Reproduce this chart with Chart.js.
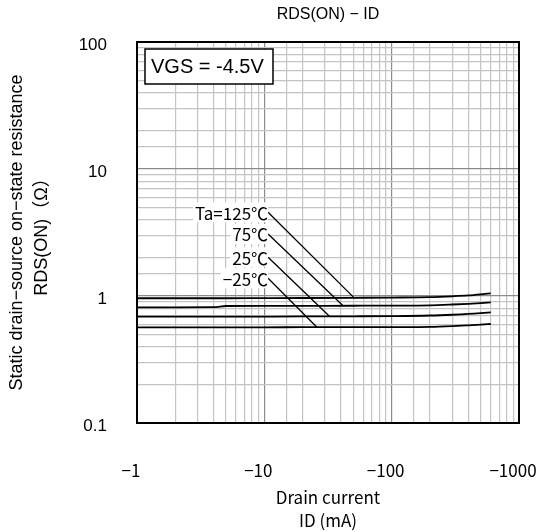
<!DOCTYPE html>
<html>
<head>
<meta charset="utf-8">
<script src="https://cdn.jsdelivr.net/npm/chart.js@4.4.1/dist/chart.umd.min.js"></script>
<style>
  body { margin: 0; background: #fff; }
</style>
</head>
<body>
<canvas id="myChart" width="536" height="532"></canvas>
<script>
// drain current (mA, magnitude; shown as negative)
const currents = [1, 2, 4, 5, 10, 20, 50, 100, 200, 300, 400, 500, 600]
const r125 = [0.96, 0.96, 0.96, 0.96, 0.962, 0.964, 0.968, 0.972, 0.98, 0.995, 1.01, 1.03, 1.05]
const r75 = [0.815, 0.815, 0.816, 0.834, 0.836, 0.837, 0.838, 0.84, 0.845, 0.857, 0.868, 0.88, 0.892]
const r25 = [0.687, 0.687, 0.688, 0.688, 0.689, 0.69, 0.692, 0.695, 0.702, 0.712, 0.722, 0.733, 0.744]
const rm25 = [0.567, 0.567, 0.567, 0.567, 0.567, 0.568, 0.568, 0.569, 0.572, 0.58, 0.588, 0.595, 0.602]

const tempLabels = ['Ta=125℃', '75℃', '25℃', '−25℃']
const leaderStartX = [10.7, 10.7, 10.7, 10.7]
const leaderStartY = [4.56, 3.08, 2.02, 1.38]
const leaderEndX = [51, 41.5, 32.6, 25.9]
const leaderEndY = [0.962, 0.837, 0.689, 0.567]

const xTicks = [1, 10, 100, 1000]
const yTicks = [0.1, 1, 10, 100]
const chartTitle = 'RDS(ON) − ID'
const conditionText = 'VGS = -4.5V'

const series = [r125, r75, r25, rm25]

const datasets = series.map(s => ({
  data: currents.map((c, i) => ({x: c, y: s[i]})),
  borderColor: '#000',
  borderWidth: 1.8,
  pointRadius: 0,
  cubicInterpolationMode: 'monotone',
  fill: false
}))

tempLabels.forEach((t, i) => {
  datasets.push({
    data: [{x: leaderStartX[i], y: leaderStartY[i]}, {x: leaderEndX[i], y: leaderEndY[i]}],
    borderColor: '#000',
    borderWidth: 1.3,
    pointRadius: 0,
    fill: false
  })
})

function isDecade(v){
  const l = Math.log10(v)
  return Math.abs(l - Math.round(l)) < 1e-6
}

const extras = {
  id: 'extras',
  afterDraw(chart){
    const c = chart.ctx
    const a = chart.chartArea
    const xs = chart.scales.x, ys = chart.scales.y
    c.save()
    // frame
    c.strokeStyle = '#000'
    c.lineWidth = 2
    c.strokeRect(a.left, a.top, a.right - a.left, a.bottom - a.top)

    // title
    c.fillStyle = '#000'
    c.font = '16px "Liberation Sans", Arial, sans-serif'
    c.textAlign = 'center'
    c.textBaseline = 'middle'
    c.fillText(chartTitle, (a.left + a.right) / 2, 15)

    // condition box
    c.fillStyle = '#fff'
    c.fillRect(a.left + 8, a.top + 7, 128, 35)
    c.lineWidth = 1.5
    c.strokeRect(a.left + 8, a.top + 7, 128, 35)
    c.fillStyle = '#000'
    c.font = '20px "Liberation Sans", Arial, sans-serif'
    c.textAlign = 'left'
    c.fillText(conditionText, a.left + 14, a.top + 25)

    // temperature labels
    c.font = '17px "Noto Sans CJK JP", sans-serif'
    c.textAlign = 'right'
    tempLabels.forEach((t, i) => {
      const px = xs.getPixelForValue(leaderStartX[i])
      const py = ys.getPixelForValue(leaderStartY[i])
      const w = c.measureText(t).width
      c.fillStyle = '#fff'
      c.fillRect(px - w - 2, py - 10, w + 2, 20)
      c.fillStyle = '#000'
      c.fillText(t, px, py + 1)
    })
    c.restore()
  }
}

new Chart(document.getElementById('myChart'), {
  type: 'line',
  data: { datasets: datasets },
  plugins: [extras],
  options: {
    responsive: false,
    animation: false,
    layout: { padding: { top: 42, right: 17, left: 0, bottom: 0 } },
    plugins: { legend: { display: false }, tooltip: { enabled: false } },
    scales: {
      x: {
        type: 'logarithmic',
        min: 1,
        max: 1000,
        border: { display: false },
        grid: {
          drawTicks: false,
          color: ctx => isDecade(ctx.tick.value) ? '#8c8c8c' : '#c4c4c4',
          lineWidth: 1.2
        },
        ticks: {
          autoSkip: false,
          maxRotation: 0,
          padding: 37,
          labelOffset: -6,
          color: '#000',
          font: { family: '"Noto Sans CJK JP", sans-serif', size: 17 },
          callback: v => xTicks.some(t => Math.abs(t - v) < 1e-6) ? '−' + v : ''
        },
        title: {
          display: true,
          text: ['Drain current', 'ID (mA)'],
          color: '#000',
          font: { family: '"Noto Sans CJK JP", sans-serif', size: 17, lineHeight: 1.36 },
          padding: { top: 0, bottom: 0 }
        },
        afterFit(scale){
          scale.height = 109
          scale.paddingLeft = 0
          scale.paddingRight = 0
        }
      },
      y: {
        type: 'logarithmic',
        min: 0.1,
        max: 100,
        border: { display: false },
        grid: {
          drawTicks: false,
          color: ctx => isDecade(ctx.tick.value) ? '#8c8c8c' : '#c4c4c4',
          lineWidth: 1.2
        },
        ticks: {
          autoSkip: false,
          padding: 30,
          labelOffset: 3,
          color: '#000',
          font: { family: '"Liberation Sans", Arial, sans-serif', size: 17 },
          callback: v => {
            const t = yTicks.find(t => Math.abs(Math.log10(t) - Math.log10(v)) < 1e-6)
            return t === undefined ? '' : String(t)
          }
        },
        title: {
          display: true,
          text: ['Static drain−source on−state resistance', 'RDS(ON)（Ω）'],
          color: '#000',
          font: { family: '"Liberation Sans", "Noto Sans CJK JP", sans-serif', size: 18, lineHeight: 1.39 },
          padding: { top: 4.5, bottom: 0 }
        },
        afterFit(scale){
          scale.width = 137
          scale.paddingTop = 0
          scale.paddingBottom = 0
        }
      }
    }
  }
})
</script>
</body>
</html>
